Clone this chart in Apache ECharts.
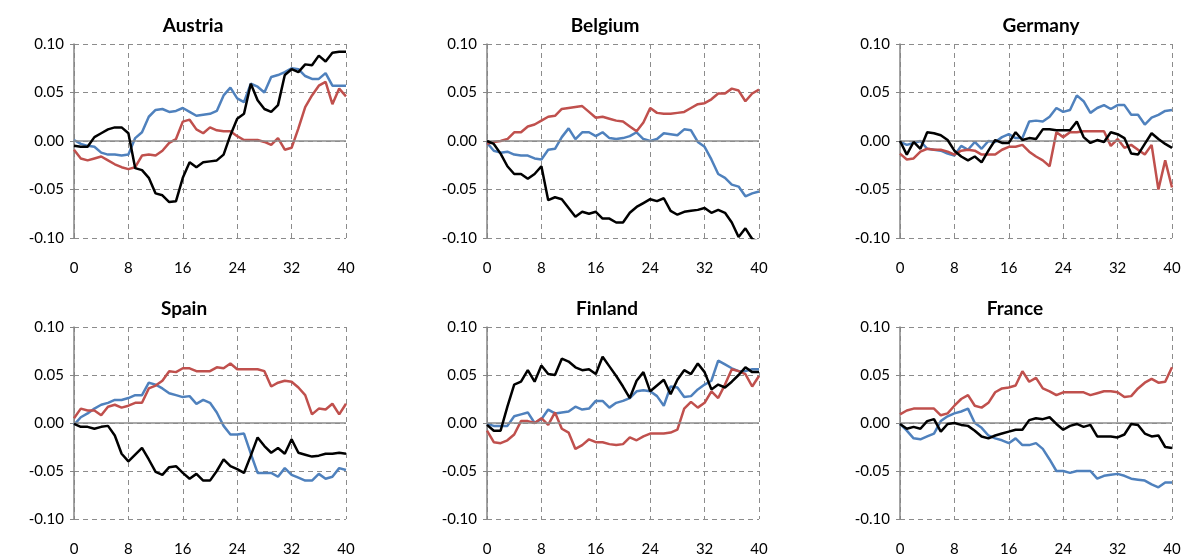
<!DOCTYPE html>
<html>
<head>
<meta charset="utf-8">
<script src="https://cdn.jsdelivr.net/npm/echarts@6/dist/echarts.min.js"></script>
<style>
html, body { margin: 0; padding: 0; background: #fff; }
#main { width: 1187px; height: 557px; }
</style>
</head>
<body>
<div id="main"></div>
<script>
// horizons (quarters) and axis ticks
var horizons = [0, 1, 2, 3, 4, 5, 6, 7, 8, 9, 10, 11, 12, 13, 14, 15, 16, 17, 18, 19, 20,
	21, 22, 23, 24, 25, 26, 27, 28, 29, 30, 31, 32, 33, 34, 35, 36, 37, 38, 39, 40];
var xTicks = [0, 8, 16, 24, 32, 40];
var yTicks = [-0.10, -0.05, 0.00, 0.05, 0.10];
var countries = ['Austria', 'Belgium', 'Germany', 'Spain', 'Finland', 'France'];

//Austria
var austriaBlue = [0.001, -0.003, -0.005, -0.006, -0.012, -0.014, -0.014, -0.015, -0.014, 0.003, 0.009, 0.025, 0.032, 0.033, 0.030, 0.031, 0.034, 0.030, 0.026, 0.027, 0.028, 0.031, 0.047, 0.055, 0.044, 0.040, 0.059, 0.056, 0.050, 0.066, 0.068, 0.071, 0.075, 0.074, 0.067, 0.064, 0.064, 0.070, 0.057, 0.057, 0.057];
var austriaRed = [-0.009, -0.018, -0.020, -0.018, -0.016, -0.020, -0.024, -0.027, -0.029, -0.027, -0.015, -0.014, -0.015, -0.010, -0.002, 0.002, 0.020, 0.022, 0.012, 0.008, 0.014, 0.011, 0.010, 0.010, 0.005, 0.001, 0.001, 0.001, -0.001, -0.004, 0.003, -0.009, -0.007, 0.013, 0.035, 0.047, 0.057, 0.061, 0.038, 0.054, 0.046];
var austriaBlack = [-0.005, -0.006, -0.006, 0.004, 0.008, 0.012, 0.014, 0.014, 0.008, -0.028, -0.030, -0.038, -0.054, -0.056, -0.063, -0.062, -0.038, -0.022, -0.027, -0.022, -0.021, -0.020, -0.014, 0.006, 0.023, 0.028, 0.059, 0.042, 0.033, 0.030, 0.037, 0.068, 0.074, 0.071, 0.079, 0.078, 0.088, 0.082, 0.091, 0.092, 0.092];

//Belgium
var belgiumBlue = [-0.002, -0.010, -0.012, -0.011, -0.014, -0.015, -0.015, -0.018, -0.019, -0.009, -0.008, 0.004, 0.013, 0.002, 0.009, 0.009, 0.005, 0.009, 0.003, 0.002, 0.003, 0.005, 0.009, 0.002, 0.000, 0.002, 0.008, 0.007, 0.006, 0.012, 0.011, -0.001, -0.006, -0.019, -0.034, -0.038, -0.045, -0.047, -0.057, -0.054, -0.052];
var belgiumRed = [-0.003, -0.001, 0.000, 0.002, 0.009, 0.009, 0.015, 0.017, 0.021, 0.025, 0.026, 0.033, 0.034, 0.035, 0.036, 0.030, 0.024, 0.025, 0.023, 0.021, 0.020, 0.015, 0.010, 0.019, 0.034, 0.029, 0.028, 0.028, 0.029, 0.030, 0.034, 0.038, 0.039, 0.043, 0.049, 0.049, 0.054, 0.052, 0.041, 0.049, 0.053];
var belgiumBlack = [0.000, -0.003, -0.013, -0.026, -0.034, -0.034, -0.039, -0.034, -0.026, -0.061, -0.058, -0.060, -0.069, -0.078, -0.073, -0.075, -0.073, -0.080, -0.080, -0.084, -0.084, -0.074, -0.068, -0.064, -0.060, -0.062, -0.059, -0.072, -0.076, -0.073, -0.072, -0.071, -0.069, -0.074, -0.071, -0.074, -0.084, -0.099, -0.090, -0.101, -0.104];

//Germany
var germanyBlue = [-0.001, -0.004, -0.002, 0.000, -0.008, -0.009, -0.010, -0.013, -0.015, -0.005, -0.009, -0.001, -0.008, 0.000, -0.001, 0.004, 0.007, 0.003, 0.003, 0.020, 0.021, 0.020, 0.025, 0.034, 0.030, 0.032, 0.047, 0.041, 0.029, 0.034, 0.037, 0.033, 0.037, 0.037, 0.027, 0.027, 0.017, 0.024, 0.027, 0.031, 0.032];
var germanyRed = [-0.013, -0.019, -0.018, -0.011, -0.008, -0.009, -0.009, -0.011, -0.014, -0.010, -0.009, -0.010, -0.014, -0.014, -0.014, -0.009, -0.006, -0.006, -0.004, -0.011, -0.016, -0.020, -0.026, 0.009, 0.004, 0.009, 0.009, 0.010, 0.010, 0.010, 0.010, -0.005, 0.002, -0.007, -0.004, -0.009, -0.014, -0.004, -0.050, -0.020, -0.048];
var germanyBlack = [0.000, -0.014, -0.001, -0.008, 0.009, 0.008, 0.006, 0.001, -0.010, -0.016, -0.020, -0.016, -0.022, -0.010, 0.001, -0.002, -0.002, 0.009, 0.001, 0.003, 0.002, 0.012, 0.012, 0.011, 0.011, 0.011, 0.020, 0.004, -0.002, 0.001, -0.001, 0.009, 0.007, 0.003, -0.013, -0.014, -0.003, 0.008, 0.002, -0.003, -0.007];

//Spain
var spainBlue = [-0.002, 0.006, 0.010, 0.015, 0.019, 0.021, 0.024, 0.024, 0.026, 0.029, 0.029, 0.042, 0.040, 0.036, 0.031, 0.029, 0.027, 0.028, 0.020, 0.024, 0.021, 0.011, -0.003, -0.012, -0.012, -0.011, -0.032, -0.052, -0.052, -0.052, -0.056, -0.047, -0.054, -0.057, -0.060, -0.060, -0.053, -0.058, -0.056, -0.047, -0.049];
var spainRed = [0.005, 0.015, 0.013, 0.013, 0.008, 0.017, 0.019, 0.016, 0.018, 0.021, 0.021, 0.036, 0.039, 0.044, 0.054, 0.053, 0.057, 0.057, 0.054, 0.054, 0.054, 0.058, 0.057, 0.062, 0.056, 0.056, 0.056, 0.056, 0.054, 0.038, 0.042, 0.044, 0.043, 0.037, 0.029, 0.009, 0.015, 0.014, 0.020, 0.009, 0.020];
var spainBlack = [-0.001, -0.004, -0.004, -0.006, -0.004, -0.003, -0.013, -0.032, -0.040, -0.033, -0.026, -0.038, -0.051, -0.054, -0.046, -0.045, -0.052, -0.058, -0.053, -0.060, -0.060, -0.050, -0.038, -0.045, -0.048, -0.052, -0.034, -0.015, -0.024, -0.031, -0.026, -0.032, -0.017, -0.031, -0.033, -0.035, -0.034, -0.032, -0.032, -0.031, -0.032];

//Finland
var finlandBlue = [-0.001, -0.003, -0.003, -0.003, 0.007, 0.009, 0.011, 0.000, 0.004, 0.014, 0.010, 0.011, 0.012, 0.017, 0.014, 0.015, 0.023, 0.023, 0.016, 0.021, 0.023, 0.026, 0.033, 0.034, 0.033, 0.028, 0.018, 0.038, 0.037, 0.027, 0.028, 0.035, 0.040, 0.044, 0.065, 0.061, 0.057, 0.054, 0.054, 0.056, 0.056];
var finlandRed = [-0.008, -0.020, -0.021, -0.018, -0.012, 0.002, 0.002, 0.000, 0.005, -0.002, 0.011, -0.006, -0.010, -0.027, -0.023, -0.017, -0.020, -0.020, -0.022, -0.023, -0.022, -0.015, -0.018, -0.014, -0.011, -0.011, -0.011, -0.010, -0.007, 0.015, 0.022, 0.016, 0.021, 0.033, 0.026, 0.040, 0.056, 0.054, 0.051, 0.038, 0.049];
var finlandBlack = [-0.002, -0.008, -0.008, 0.017, 0.040, 0.043, 0.055, 0.043, 0.060, 0.051, 0.050, 0.067, 0.064, 0.058, 0.055, 0.056, 0.051, 0.069, 0.059, 0.049, 0.038, 0.026, 0.044, 0.053, 0.033, 0.039, 0.045, 0.030, 0.045, 0.055, 0.051, 0.062, 0.053, 0.035, 0.040, 0.037, 0.043, 0.050, 0.058, 0.053, 0.053];

//France
var franceBlue = [-0.001, -0.008, -0.016, -0.017, -0.014, -0.011, 0.002, 0.007, 0.010, 0.012, 0.015, 0.000, -0.005, -0.013, -0.016, -0.018, -0.021, -0.016, -0.023, -0.023, -0.021, -0.027, -0.038, -0.050, -0.050, -0.052, -0.050, -0.050, -0.050, -0.058, -0.055, -0.054, -0.053, -0.055, -0.058, -0.059, -0.060, -0.064, -0.067, -0.062, -0.062];
var franceRed = [0.009, 0.013, 0.015, 0.015, 0.015, 0.015, 0.008, 0.010, 0.018, 0.025, 0.029, 0.018, 0.016, 0.021, 0.032, 0.036, 0.037, 0.039, 0.054, 0.043, 0.047, 0.036, 0.033, 0.029, 0.032, 0.032, 0.032, 0.032, 0.029, 0.031, 0.033, 0.033, 0.032, 0.027, 0.028, 0.036, 0.042, 0.046, 0.042, 0.043, 0.058];
var franceBlack = [-0.001, -0.006, -0.004, -0.006, 0.002, 0.004, -0.009, -0.001, 0.000, -0.002, -0.003, -0.008, -0.014, -0.016, -0.013, -0.011, -0.009, -0.007, -0.007, 0.003, 0.005, 0.004, 0.006, -0.001, -0.007, -0.003, -0.001, -0.004, -0.002, -0.014, -0.014, -0.014, -0.015, -0.012, -0.001, -0.002, -0.011, -0.014, -0.013, -0.025, -0.026];

var panelData = [
	[austriaBlue, austriaRed, austriaBlack],
	[belgiumBlue, belgiumRed, belgiumBlack],
	[germanyBlue, germanyRed, germanyBlack],
	[spainBlue, spainRed, spainBlack],
	[finlandBlue, finlandRed, finlandBlack],
	[franceBlue, franceRed, franceBlack]
];

var lineColors = ['#4F81BD', '#C0504D', '#000000'];
var fontName = 'Lato';

// panel positions
var lefts = [74, 487, 900];
var tops = [44, 327];
var titleX = [188, 600, 1036, 179, 602, 1010];
var titleY = [11, 294];

var chart = echarts.init(document.getElementById('main'));

var grids = [], xAxes = [], yAxes = [], titles = [], series = [];

function pairs(arr) {
	return horizons.map(function(h, k) {
		return [h, arr[k]];
	});
}

for (var i = 0; i < 6; i++) {
	var col = i % 3, row = Math.floor(i / 3);
	grids.push({
		left: lefts[col],
		top: tops[row],
		width: 272,
		height: 194
	});
	titles.push({
		text: countries[i],
		left: titleX[i],
		top: titleY[row],
		textAlign: 'center',
		textStyle: {
			fontFamily: fontName,
			fontWeight: 'bold',
			fontSize: 19,
			color: '#000'
		}
	});
	xAxes.push({
		type: 'value',
		gridIndex: i,
		min: xTicks[0],
		max: xTicks[xTicks.length - 1],
		interval: 8,
		axisLine: { show: false, onZero: false },
		axisTick: { show: false },
		axisLabel: {
			fontFamily: fontName,
			fontSize: 15,
			color: '#000',
			margin: 23
		},
		splitLine: {
			show: true,
			lineStyle: { color: '#8c8c8c', type: [5, 4], width: 1 }
		}
	});
	yAxes.push({
		type: 'value',
		gridIndex: i,
		min: yTicks[0],
		max: yTicks[yTicks.length - 1],
		interval: 0.05,
		axisLine: {
			show: true,
			lineStyle: { color: '#868686', width: 1.5 }
		},
		axisTick: {
			show: true,
			length: 4,
			lineStyle: { color: '#868686' }
		},
		axisLabel: {
			fontFamily: fontName,
			fontSize: 15,
			color: '#000',
			margin: 10,
			formatter: function(v) {
				return v.toFixed(2);
			}
		},
		splitLine: {
			show: true,
			lineStyle: { color: '#8c8c8c', type: [5, 4], width: 1 }
		}
	});
	for (var s = 0; s < 3; s++) {
		var ser = {
			type: 'line',
			xAxisIndex: i,
			yAxisIndex: i,
			data: pairs(panelData[i][s]),
			showSymbol: false,
			symbol: 'none',
			animation: false,
			lineStyle: { color: lineColors[s], width: 2.5 },
			itemStyle: { color: lineColors[s] },
			z: 3 + s
		};
		if (s === 0) {
			// solid zero line
			ser.markLine = {
				silent: true,
				symbol: 'none',
				label: { show: false },
				animation: false,
				lineStyle: { color: '#8c8c8c', type: 'solid', width: 1.5 },
				data: [{ yAxis: 0 }]
			};
		}
		series.push(ser);
	}
}

chart.setOption({
	animation: false,
	backgroundColor: '#fff',
	title: titles,
	grid: grids,
	xAxis: xAxes,
	yAxis: yAxes,
	series: series
});
</script>
</body>
</html>
